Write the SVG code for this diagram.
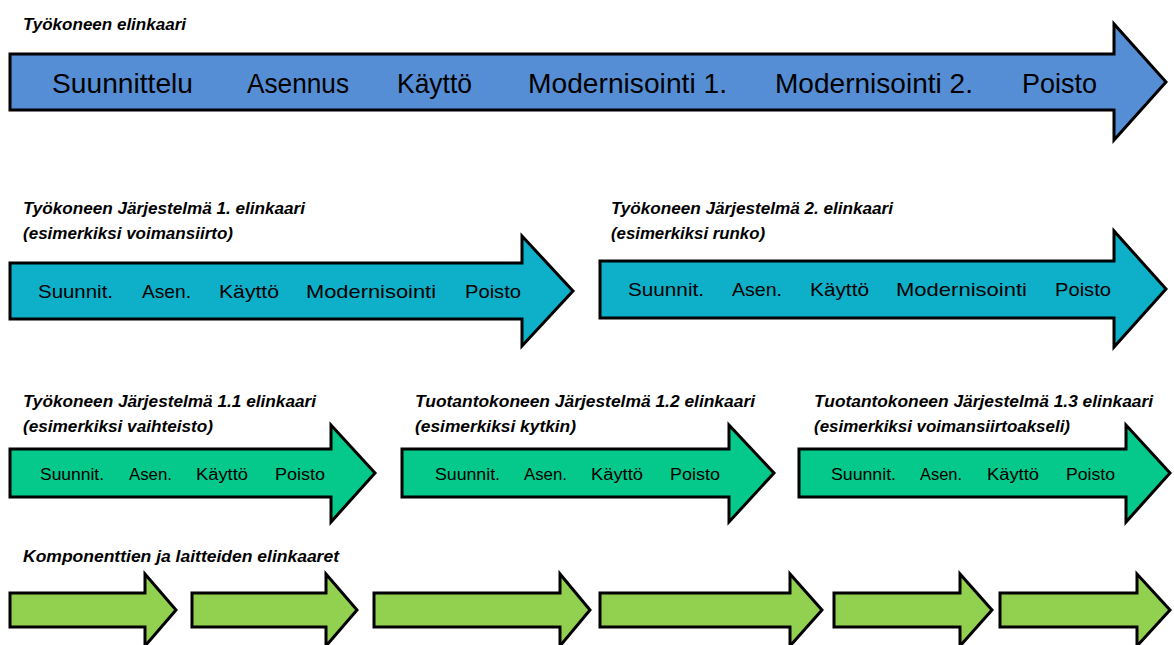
<svg xmlns="http://www.w3.org/2000/svg" width="1174" height="645" viewBox="0 0 1174 645">
  <style>
    .arrow { stroke: #000; stroke-width: 3; stroke-linejoin: miter; }
    .blue { fill: #558ED5; }
    .teal { fill: #0DAFC9; }
    .green { fill: #05C98A; }
    .lime { fill: #92D050; }
    .title { font-family: "Liberation Sans", Arial, sans-serif; font-style: italic; font-weight: bold; font-size: 16px; fill: #000; }
    .lbl { font-family: "Liberation Sans", Arial, sans-serif; fill: #000; }
    .l1 { font-size: 28px; }
    .l2 { font-size: 19px; }
    .l3 { font-size: 16px; }
  </style>

  <!-- Whole machine lifecycle -->
  <g id="machine">
    <text class="title" x="23" y="30" textLength="163" lengthAdjust="spacingAndGlyphs">Työkoneen elinkaari</text>
    <path class="arrow blue" d="M10,54 H1114 V24 L1166,82 L1114,140 V110 H10 Z"/>
    <g class="lbl l1">
      <text x="52" y="93" textLength="141" lengthAdjust="spacingAndGlyphs">Suunnittelu</text>
      <text x="247" y="93" textLength="102" lengthAdjust="spacingAndGlyphs">Asennus</text>
      <text x="397" y="93" textLength="75" lengthAdjust="spacingAndGlyphs">Käyttö</text>
      <text x="528" y="93" textLength="199" lengthAdjust="spacingAndGlyphs">Modernisointi 1.</text>
      <text x="775" y="93" textLength="198" lengthAdjust="spacingAndGlyphs">Modernisointi 2.</text>
      <text x="1022" y="93" textLength="75" lengthAdjust="spacingAndGlyphs">Poisto</text>
    </g>
  </g>

  <!-- System 1 -->
  <g id="system1">
    <text class="title" x="23" y="214" textLength="282" lengthAdjust="spacingAndGlyphs">Työkoneen Järjestelmä 1. elinkaari</text>
    <text class="title" x="23" y="239" textLength="210" lengthAdjust="spacingAndGlyphs">(esimerkiksi voimansiirto)</text>
    <path class="arrow teal" d="M10,263 H522 V236 L573,291 L522,346 V319 H10 Z"/>
    <g class="lbl l2">
      <text x="38" y="298" textLength="75" lengthAdjust="spacingAndGlyphs">Suunnit.</text>
      <text x="142" y="298" textLength="49" lengthAdjust="spacingAndGlyphs">Asen.</text>
      <text x="219" y="298" textLength="60" lengthAdjust="spacingAndGlyphs">Käyttö</text>
      <text x="306" y="298" textLength="130" lengthAdjust="spacingAndGlyphs">Modernisointi</text>
      <text x="465" y="298" textLength="56" lengthAdjust="spacingAndGlyphs">Poisto</text>
    </g>
  </g>

  <!-- System 2 -->
  <g id="system2">
    <text class="title" x="611" y="214" textLength="282" lengthAdjust="spacingAndGlyphs">Työkoneen Järjestelmä 2. elinkaari</text>
    <text class="title" x="611" y="239" textLength="154" lengthAdjust="spacingAndGlyphs">(esimerkiksi runko)</text>
    <path class="arrow teal" d="M600,261 H1114 V231 L1166,289 L1114,347 V318 H600 Z"/>
    <g class="lbl l2">
      <text x="628" y="296" textLength="76" lengthAdjust="spacingAndGlyphs">Suunnit.</text>
      <text x="732" y="296" textLength="50" lengthAdjust="spacingAndGlyphs">Asen.</text>
      <text x="810" y="296" textLength="59" lengthAdjust="spacingAndGlyphs">Käyttö</text>
      <text x="896" y="296" textLength="131" lengthAdjust="spacingAndGlyphs">Modernisointi</text>
      <text x="1055" y="296" textLength="56" lengthAdjust="spacingAndGlyphs">Poisto</text>
    </g>
  </g>

  <!-- System 1.1 -->
  <g id="system1_1">
    <text class="title" x="23" y="407" textLength="293" lengthAdjust="spacingAndGlyphs">Työkoneen Järjestelmä 1.1 elinkaari</text>
    <text class="title" x="23" y="432" textLength="190" lengthAdjust="spacingAndGlyphs">(esimerkiksi vaihteisto)</text>
    <path class="arrow green" d="M10,449 H331 V425 L375,473 L331,522 V497 H10 Z"/>
    <g class="lbl l3">
      <text x="40" y="480" textLength="64" lengthAdjust="spacingAndGlyphs">Suunnit.</text>
      <text x="129" y="480" textLength="43" lengthAdjust="spacingAndGlyphs">Asen.</text>
      <text x="196" y="480" textLength="52" lengthAdjust="spacingAndGlyphs">Käyttö</text>
      <text x="275" y="480" textLength="50" lengthAdjust="spacingAndGlyphs">Poisto</text>
    </g>
  </g>

  <!-- System 1.2 -->
  <g id="system1_2">
    <text class="title" x="415" y="407" textLength="340" lengthAdjust="spacingAndGlyphs">Tuotantokoneen Järjestelmä 1.2 elinkaari</text>
    <text class="title" x="415" y="432" textLength="161" lengthAdjust="spacingAndGlyphs">(esimerkiksi kytkin)</text>
    <path class="arrow green" d="M402,449 H729 V425 L774,473 L729,522 V497 H402 Z"/>
    <g class="lbl l3">
      <text x="435" y="480" textLength="65" lengthAdjust="spacingAndGlyphs">Suunnit.</text>
      <text x="524" y="480" textLength="43" lengthAdjust="spacingAndGlyphs">Asen.</text>
      <text x="591" y="480" textLength="52" lengthAdjust="spacingAndGlyphs">Käyttö</text>
      <text x="670" y="480" textLength="50" lengthAdjust="spacingAndGlyphs">Poisto</text>
    </g>
  </g>

  <!-- System 1.3 -->
  <g id="system1_3">
    <text class="title" x="814" y="407" textLength="339" lengthAdjust="spacingAndGlyphs">Tuotantokoneen Järjestelmä 1.3 elinkaari</text>
    <text class="title" x="814" y="432" textLength="256" lengthAdjust="spacingAndGlyphs">(esimerkiksi voimansiirtoakseli)</text>
    <path class="arrow green" d="M799,449 H1126 V425 L1170,473 L1126,522 V497 H799 Z"/>
    <g class="lbl l3">
      <text x="831" y="480" textLength="65" lengthAdjust="spacingAndGlyphs">Suunnit.</text>
      <text x="920" y="480" textLength="42" lengthAdjust="spacingAndGlyphs">Asen.</text>
      <text x="987" y="480" textLength="52" lengthAdjust="spacingAndGlyphs">Käyttö</text>
      <text x="1066" y="480" textLength="49" lengthAdjust="spacingAndGlyphs">Poisto</text>
    </g>
  </g>

  <!-- Components and devices -->
  <g id="components">
    <text class="title" x="23" y="562" textLength="316" lengthAdjust="spacingAndGlyphs">Komponenttien ja laitteiden elinkaaret</text>
    <path class="arrow lime" d="M10,593 H145 V574 L176,610 L145,646 V627 H10 Z"/>
    <path class="arrow lime" d="M192,593 H326 V574 L357,610 L326,646 V627 H192 Z"/>
    <path class="arrow lime" d="M374,593 H560 V574 L590,610 L560,646 V627 H374 Z"/>
    <path class="arrow lime" d="M600,593 H790 V574 L822,610 L790,646 V627 H600 Z"/>
    <path class="arrow lime" d="M834,593 H960 V574 L992,610 L960,646 V627 H834 Z"/>
    <path class="arrow lime" d="M1000,593 H1137 V574 L1170,610 L1137,646 V627 H1000 Z"/>
  </g>
</svg>
